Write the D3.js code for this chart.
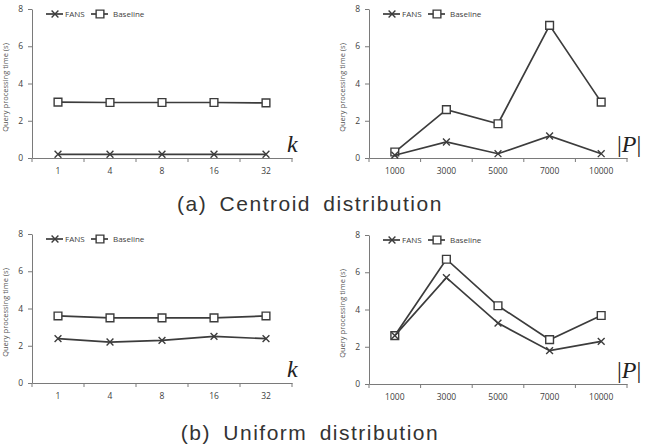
<!DOCTYPE html>
<html>
<head>
<meta charset="utf-8">
<script src="https://cdn.jsdelivr.net/npm/d3@7"></script>
<style>
	body { margin: 0; background: #fff; }
	svg { display: block; }
	.tick text { font-family: "Open Sans", sans-serif; font-size: 8.5px; fill: #404040; }
	.axis path, .axis line { stroke: #7a7a7a; }
</style>
</head>
<body>
<svg id="chart" width="651" height="446"></svg>
<script>
(function(d3) {
	'use strict';

	/** data */
	var kCategories = ['1', '4', '8', '16', '32'];
	var pCategories = ['1000', '3000', '5000', '7000', '10000'];
	var yTicks = [0, 2, 4, 6, 8];

	var centroidKFans = [0.2, 0.2, 0.2, 0.2, 0.2];
	var centroidKBaseline = [3.0, 2.98, 2.98, 2.98, 2.96];
	var centroidPFans = [0.15, 0.86, 0.23, 1.18, 0.23];
	var centroidPBaseline = [0.32, 2.6, 1.84, 7.12, 3.0];

	var uniformKFans = [2.38, 2.2, 2.29, 2.5, 2.38];
	var uniformKBaseline = [3.6, 3.5, 3.5, 3.5, 3.6];
	var uniformPFans = [2.6, 5.71, 3.27, 1.79, 2.29];
	var uniformPBaseline = [2.6, 6.7, 4.2, 2.38, 3.68];

	var captions = ['(a) Centroid distribution', '(b) Uniform distribution'];

	var svg = d3.select('#chart');
	var lineColor = '#3c3c3c';

	var drawPanel = function(opts) {
		var g = svg.append('g');
		var x = d3.scaleBand().domain(opts.categories).range([opts.left, opts.right]);
		var y = d3.scaleLinear().domain([0, 8]).range([opts.bottom, opts.top]);

		/** y axis */
		g.append('g').attr('class', 'axis')
			.attr('transform', 'translate(' + opts.left + ',0)')
			.call(d3.axisLeft(y).tickValues(yTicks).tickSize(4).tickSizeOuter(0).tickPadding(5));

		/** x axis: labels at band centers, ticks at band edges */
		var xAxis = g.append('g').attr('class', 'axis')
			.attr('transform', 'translate(0,' + opts.bottom + ')')
			.call(d3.axisBottom(x).tickSize(0).tickSizeOuter(0).tickPadding(10));
		var edges = opts.categories.map(function(c) { return x(c); }).concat([opts.right]);
		xAxis.selectAll('.edge').data(edges).enter().append('line')
			.attr('class', 'edge')
			.attr('x1', function(d) { return d; }).attr('x2', function(d) { return d; })
			.attr('y1', 0).attr('y2', 4)
			.attr('stroke', '#7a7a7a');

		/** y title */
		g.append('text')
			.attr('transform', 'translate(' + (opts.left - 24) + ',' + ((opts.top + opts.bottom) / 2 + 4) + ') rotate(-90)')
			.attr('text-anchor', 'middle')
			.style('font-family', '"Open Sans", sans-serif')
			.style('font-size', '7.5px')
			.attr('fill', '#555')
			.text('Query processing time (s)');

		/** series */
		var cx = function(d, i) { return x(opts.categories[i]) + x.bandwidth() / 2; };
		var line = d3.line().x(cx).y(function(d) { return y(d); });
		var series = [
			{ values: opts.baseline, symbol: d3.symbolSquare, size: 60, fill: '#fff' },
			{ values: opts.fans, symbol: d3.symbolX, size: 32, fill: 'none' }
		];
		series.forEach(function(s) {
			g.append('path').datum(s.values)
				.attr('d', line)
				.attr('fill', 'none')
				.attr('stroke', lineColor)
				.attr('stroke-width', 1.7);
			g.selectAll(null).data(s.values).enter().append('path')
				.attr('transform', function(d, i) { return 'translate(' + cx(d, i) + ',' + y(d) + ')'; })
				.attr('d', d3.symbol().type(s.symbol).size(s.size))
				.attr('fill', s.fill)
				.attr('stroke', lineColor)
				.attr('stroke-width', 1.4);
		});

		/** legend */
		var ly = opts.top + 5;
		var legend = [
			{ name: 'FANS', symbol: d3.symbolX, size: 32, fill: 'none', mx: 23, tx: 33 },
			{ name: 'Baseline', symbol: d3.symbolSquare, size: 60, fill: '#fff', mx: 68, tx: 81 }
		];
		legend.forEach(function(l) {
			var mx = opts.left + l.mx;
			g.append('line')
				.attr('x1', mx - 9).attr('x2', mx + 8)
				.attr('y1', ly).attr('y2', ly)
				.attr('stroke', lineColor).attr('stroke-width', 1.7);
			g.append('path')
				.attr('transform', 'translate(' + mx + ',' + ly + ')')
				.attr('d', d3.symbol().type(l.symbol).size(l.size))
				.attr('fill', l.fill)
				.attr('stroke', lineColor).attr('stroke-width', 1.4);
			g.append('text')
				.attr('x', opts.left + l.tx).attr('y', ly + 2.8)
				.style('font-family', '"Open Sans", sans-serif')
				.style('font-size', '8px')
				.attr('fill', '#404040')
				.text(l.name);
		});

		/** variable label */
		var v = g.append('text')
			.attr('x', opts.right + (opts.variable === 'k' ? -5 : -10))
			.attr('y', opts.bottom - 6)
			.style('font-family', '"Liberation Serif", serif')
			.style('font-size', '24px')
			.attr('fill', '#222');
		if (opts.variable === 'k') {
			v.append('tspan').style('font-style', 'italic').text('k');
		} else {
			v.append('tspan').text('|');
			v.append('tspan').style('font-style', 'italic').text('P');
			v.append('tspan').text('|');
		}
	};

	drawPanel({ categories: kCategories, fans: centroidKFans, baseline: centroidKBaseline,
		left: 32, right: 292, top: 9, bottom: 158, variable: 'k' });
	drawPanel({ categories: pCategories, fans: centroidPFans, baseline: centroidPBaseline,
		left: 369, right: 627, top: 9, bottom: 158, variable: 'P' });
	drawPanel({ categories: kCategories, fans: uniformKFans, baseline: uniformKBaseline,
		left: 32, right: 292, top: 234, bottom: 383, variable: 'k' });
	drawPanel({ categories: pCategories, fans: uniformPFans, baseline: uniformPBaseline,
		left: 369, right: 627, top: 235, bottom: 384, variable: 'P' });

	/** captions */
	svg.selectAll('.caption').data(captions).enter().append('text')
		.attr('class', 'caption')
		.attr('x', 310)
		.attr('y', function(d, i) { return i === 0 ? 211 : 440; })
		.attr('text-anchor', 'middle')
		.style('font-family', '"Liberation Sans", sans-serif')
		.style('font-size', '21px')
		.style('letter-spacing', '1.5px')
		.style('word-spacing', '5px')
		.attr('fill', '#333')
		.text(function(d) { return d; });
})(d3);
</script>
</body>
</html>
